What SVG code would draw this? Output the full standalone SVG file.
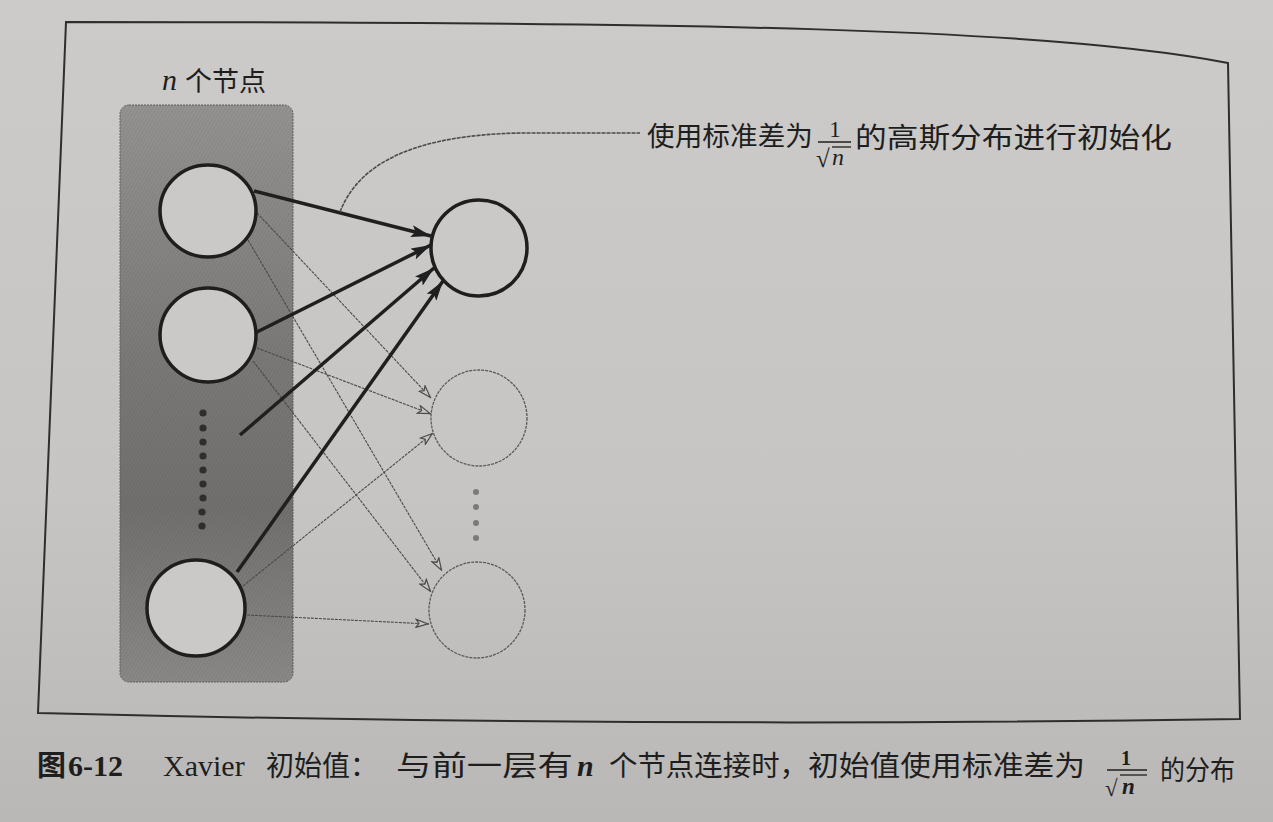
<svg xmlns="http://www.w3.org/2000/svg" width="1273" height="822" viewBox="0 0 1273 822">
  <defs>
    <linearGradient id="page" x1="0" y1="0" x2="0" y2="1">
      <stop offset="0" stop-color="#cccbc9"/>
      <stop offset="0.6" stop-color="#c6c5c3"/>
      <stop offset="1" stop-color="#b9b8b6"/>
    </linearGradient>
    <linearGradient id="boxg" x1="0" y1="0" x2="0" y2="1">
      <stop offset="0" stop-color="#949391"/>
      <stop offset="0.45" stop-color="#7a7977"/>
      <stop offset="0.7" stop-color="#71706e"/>
      <stop offset="1" stop-color="#8a8987"/>
    </linearGradient>
    <pattern id="hatch" patternUnits="userSpaceOnUse" width="3" height="3" patternTransform="rotate(30)">
      <line x1="0" y1="0" x2="0" y2="3" stroke="#000" stroke-opacity="0.12" stroke-width="1"/>
    </pattern>
    <marker id="solid" viewBox="0 0 20 12" refX="20" refY="6" markerWidth="20" markerHeight="12" markerUnits="userSpaceOnUse" orient="auto">
      <path d="M0,0 L20,6 L0,12 L4,6 Z" fill="#1f1f1f"/>
    </marker>
    <marker id="hollow" viewBox="0 0 14 10" refX="14" refY="5" markerWidth="14" markerHeight="10" markerUnits="userSpaceOnUse" orient="auto">
      <path d="M1,1 L13,5 L1,9 L4,5 Z" fill="#c9c8c6" stroke="#4a4a4a" stroke-width="1.2"/>
    </marker>
  </defs>
  <style>
    .cjk { font-family: "Noto Sans CJK SC", "Noto Sans", sans-serif; fill: #1e1e1e; }
    .serif { font-family: "Liberation Serif", "DejaVu Serif", serif; fill: #1e1e1e; }
    .inNode { fill: #cac9c7; stroke: #1e1e1e; stroke-width: 3.5; }
    .outThick { fill: #cac9c7; stroke: #1e1e1e; stroke-width: 3.5; }
    .outThin { fill: none; stroke: #5a5a5a; stroke-width: 1.3; stroke-dasharray: 3 1; }
    .thick { stroke: #1f1f1f; stroke-width: 3.5; fill: none; marker-end: url(#solid); }
    .thin { stroke: #4a4a4a; stroke-width: 1.1; fill: none; stroke-dasharray: 3 1; marker-end: url(#hollow); }
    .dot { fill: #2e2e2e; }
    .gdot { fill: #7a7a7a; }
  </style>

  <rect width="1273" height="822" fill="url(#page)"/>

  <!-- frame -->
  <path d="M66,22 C700,22 1050,28 1228,63 L1240,719 Q640,728 38,713 Z" fill="none" stroke="#2e2e2e" stroke-width="2"/>

  <!-- input layer box -->
  <g id="input-layer">
    <rect x="120" y="105" width="173" height="577" rx="9" fill="url(#boxg)"/>
    <rect x="120" y="105" width="173" height="577" rx="9" fill="url(#hatch)" stroke="#5e5d5b" stroke-width="1" stroke-dasharray="2 1"/>
    <text x="162" y="90" class="serif" font-style="italic" font-size="30">n</text>
    <text x="185" y="91" class="cjk" font-size="27">个节点</text>
  </g>

  <!-- connectors -->
  <g id="connectors">
    <line class="thin" x1="257" y1="213" x2="431" y2="398"/>
    <line class="thin" x1="248" y1="240" x2="442" y2="571"/>
    <line class="thin" x1="257" y1="348" x2="431" y2="414"/>
    <line class="thin" x1="253" y1="361" x2="431" y2="592"/>
    <line class="thin" x1="243" y1="586" x2="433" y2="433"/>
    <line class="thin" x1="247" y1="615" x2="429" y2="624"/>
    <line class="thick" x1="254" y1="191" x2="431" y2="236"/>
    <line class="thick" x1="255" y1="333" x2="431" y2="245"/>
    <line class="thick" x1="240" y1="435" x2="434" y2="268"/>
    <line class="thick" x1="237" y1="572" x2="443" y2="281"/>
    <path d="M340,212 C360,160 420,135 520,133 L640,133" fill="none" stroke="#4a4a4a" stroke-width="1.6" stroke-dasharray="4 1"/>
  </g>

  <g id="in1"><ellipse class="inNode" cx="208" cy="211" rx="48" ry="46"/></g>
  <g id="in2"><ellipse class="inNode" cx="208" cy="335" rx="48" ry="47"/></g>
  <g id="in-dots">
    <circle class="dot" cx="203" cy="413" r="3.6"/>
    <circle class="dot" cx="203" cy="428" r="3.6"/>
    <circle class="dot" cx="203" cy="442" r="3.6"/>
    <circle class="dot" cx="203" cy="456" r="3.6"/>
    <circle class="dot" cx="203" cy="470" r="3.6"/>
    <circle class="dot" cx="203" cy="484" r="3.6"/>
    <circle class="dot" cx="203" cy="498" r="3.6"/>
    <circle class="dot" cx="202" cy="512" r="3.6"/>
    <circle class="dot" cx="202" cy="526" r="3.6"/>
  </g>
  <g id="in3"><ellipse class="inNode" cx="196" cy="608" rx="49" ry="48"/></g>

  <g id="out1"><ellipse class="outThick" cx="479" cy="248" rx="48" ry="48"/></g>
  <g id="out2"><ellipse class="outThin" cx="479" cy="418" rx="48" ry="48"/></g>
  <g id="out-dots">
    <circle class="gdot" cx="476" cy="492" r="3"/>
    <circle class="gdot" cx="476" cy="507" r="3"/>
    <circle class="gdot" cx="476" cy="523" r="3"/>
    <circle class="gdot" cx="476" cy="538" r="3"/>
  </g>
  <g id="out3"><ellipse class="outThin" cx="477" cy="610" rx="48" ry="48"/></g>

  <!-- annotation -->
  <g id="annotation">
    <text x="647" y="146" class="cjk" font-size="27" textLength="166" lengthAdjust="spacingAndGlyphs">使用标准差为</text>
    <text x="835" y="137" class="serif" font-size="23" text-anchor="middle">1</text>
    <line x1="818" y1="142" x2="851" y2="142" stroke="#1e1e1e" stroke-width="1.4"/>
    <text x="816" y="167" class="serif" font-size="25">√</text>
    <line x1="832" y1="147" x2="851" y2="147" stroke="#1e1e1e" stroke-width="1.3"/>
    <text x="832" y="165" class="serif" font-style="italic" font-size="24">n</text>
    <text x="855" y="148" class="cjk" font-size="28" textLength="317" lengthAdjust="spacingAndGlyphs">的高斯分布进行初始化</text>
  </g>

  <!-- caption -->
  <g id="caption">
    <text x="37" y="776" class="cjk" font-size="29" font-weight="bold">图</text>
    <text x="68" y="776" class="serif" font-size="30" font-weight="bold">6-12</text>
    <text x="163" y="776" class="serif" font-size="30">Xavier</text>
    <text x="266" y="776" class="cjk" font-size="28">初始值：</text>
    <text x="396" y="776" class="cjk" font-size="28" textLength="177" lengthAdjust="spacingAndGlyphs">与前一层有</text>
    <text x="577" y="776" class="serif" font-size="30" font-style="italic" font-weight="bold">n</text>
    <text x="609" y="776" class="cjk" font-size="28" textLength="199" lengthAdjust="spacingAndGlyphs">个节点连接时，</text>
    <text x="808" y="776" class="cjk" font-size="28" textLength="277" lengthAdjust="spacingAndGlyphs">初始值使用标准差为</text>
    <text x="1126" y="765" class="serif" font-size="20" font-weight="bold" text-anchor="middle">1</text>
    <line x1="1107" y1="770" x2="1147" y2="770" stroke="#1e1e1e" stroke-width="1.4"/>
    <text x="1105" y="796" class="serif" font-size="23">√</text>
    <line x1="1120" y1="775" x2="1147" y2="775" stroke="#1e1e1e" stroke-width="1.3"/>
    <text x="1122" y="794" class="serif" font-size="23" font-style="italic" font-weight="bold">n</text>
    <text x="1160" y="780" class="cjk" font-size="27" textLength="75" lengthAdjust="spacingAndGlyphs">的分布</text>
  </g>
</svg>
